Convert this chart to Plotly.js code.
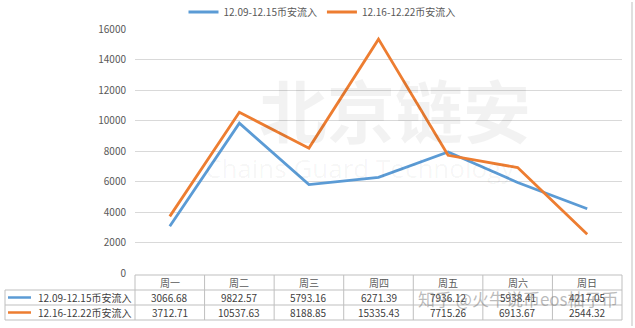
<!DOCTYPE html>
<html>
<head>
<meta charset="utf-8">
<script src="https://cdn.plot.ly/plotly-3.0.1.min.js"></script>
<style>html,body{margin:0;padding:0;background:#fff;}#chart{width:635px;height:328px;}</style>
</head>
<body>
<div id="chart"></div>
<script>
var categories = ['周一','周二','周三','周四','周五','周六','周日'];
var seriesNames = ['12.09-12.15币安流入','12.16-12.22币安流入'];
var week1 = [3066.68, 9822.57, 5793.16, 6271.39, 7936.12, 5938.41, 4217.05];
var week2 = [3712.71, 10537.63, 8188.85, 15335.43, 7715.26, 6913.67, 2544.32];
var colors = ['#5b9bd5', '#ed7d31'];
var yTicks = [0, 2000, 4000, 6000, 8000, 10000, 12000, 14000, 16000];

var W = 635, H = 328;
var mL = 135, mR = 13, mT = 29, mB = 55;
var pw = W - mL - mR, ph = H - mT - mB;
function px2x(p){ return (p - mL) / pw; }
function py2y(p){ return (H - mB - p) / ph; }

var font = "'Noto Sans CJK SC', 'Noto Sans', sans-serif";
var n = categories.length;
var lineCol = '#bfbfbf';

var rowTop = [275, 290, 305, 320].map(py2y);
var catEdge = []; for (var i = 0; i <= n; i++) catEdge.push(i / n);
var leftEdge = px2x(5);

var shapes = [];
function ln(x0,y0,x1,y1){ shapes.push({type:'line', xref:'paper', yref:'paper', x0:x0, y0:y0, x1:x1, y1:y1, line:{color:lineCol, width:1}}); }
ln(0, rowTop[0], 1, rowTop[0]);
for (var r = 1; r < 4; r++) ln(leftEdge, rowTop[r], 1, rowTop[r]);
for (var i = 0; i <= n; i++) ln(catEdge[i], rowTop[0], catEdge[i], rowTop[3]);
ln(leftEdge, rowTop[1], leftEdge, rowTop[3]);
ln(px2x(632), py2y(2), px2x(632), py2y(326));

var annotations = [];
var rowMid = [(rowTop[0]+rowTop[1])/2, (rowTop[1]+rowTop[2])/2, (rowTop[2]+rowTop[3])/2];
categories.forEach(function(c, i){
  annotations.push({xref:'x', yref:'paper', x:i, y:rowMid[0], text:c, showarrow:false,
    font:{family:font, size:10, color:'#595959'}, xanchor:'center', yanchor:'middle'});
});
[week1, week2].forEach(function(arr, s){
  arr.forEach(function(v, i){
    annotations.push({xref:'x', yref:'paper', x:i, y:rowMid[s+1], text:v.toFixed(2), showarrow:false,
      font:{family:font, size:10, color:'#404040'}, xanchor:'center', yanchor:'middle'});
  });
  annotations.push({xref:'paper', yref:'paper', x:px2x(133), y:rowMid[s+1], text:seriesNames[s], showarrow:false,
    font:{family:font, size:10, color:'#404040'}, xanchor:'right', yanchor:'middle'});
  shapes.push({type:'line', xref:'paper', yref:'paper', x0:px2x(8), x1:px2x(31), y0:rowMid[s+1], y1:rowMid[s+1],
    line:{color:colors[s], width:2.5}});
});

// watermarks
annotations.push({xref:'paper', yref:'paper', x:px2x(395), y:py2y(108), text:'<b>北京链安</b>', showarrow:false,
  font:{family:font, size:68, color:'rgba(0,0,0,0.05)'}, xanchor:'center', yanchor:'middle'});
annotations.push({xref:'paper', yref:'paper', x:px2x(360), y:py2y(168), text:'Chains Guard Technology', showarrow:false,
  font:{family:"'Open Sans', sans-serif", size:26, color:'rgba(0,0,0,0.045)'}, xanchor:'center', yanchor:'middle'});
annotations.push({xref:'paper', yref:'paper', x:px2x(518), y:py2y(298), text:'知乎 @火牛说币eos柚子币', showarrow:false,
  font:{family:font, size:17, color:'rgba(120,120,120,0.5)'}, xanchor:'center', yanchor:'middle'});

var traces = [
  {x: categories, y: week1, name: seriesNames[0], type:'scatter', mode:'lines', line:{color:colors[0], width:2.8}},
  {x: categories, y: week2, name: seriesNames[1], type:'scatter', mode:'lines', line:{color:colors[1], width:2.8}}
];

var layout = {
  width: W, height: H,
  margin: {l:mL, r:mR, t:mT, b:mB, pad:0, autoexpand:false},
  paper_bgcolor:'#ffffff', plot_bgcolor:'#ffffff',
  font:{family:font, size:10, color:'#595959'},
  showlegend:true,
  legend:{orientation:'h', x:px2x(322), xanchor:'center', y:py2y(12), yanchor:'middle',
    font:{family:font, size:10, color:'#595959'}, itemwidth:30, tracegroupgap:0, bgcolor:'rgba(0,0,0,0)'},
  xaxis:{type:'category', range:[-0.5, n-0.5], showticklabels:false, showgrid:false, zeroline:false, showline:false, ticks:'', automargin:false},
  yaxis:{range:[0,16000], tickvals:yTicks, ticktext:yTicks.map(String), showgrid:true, gridcolor:'#d9d9d9', gridwidth:1,
    zeroline:false, showline:false, ticks:'', ticklabelstandoff:8, automargin:false, tickfont:{family:font, size:10, color:'#595959'}},
  shapes: shapes,
  annotations: annotations
};

Plotly.newPlot('chart', traces, layout, {displayModeBar:false, staticPlot:true});
</script>
</body>
</html>
